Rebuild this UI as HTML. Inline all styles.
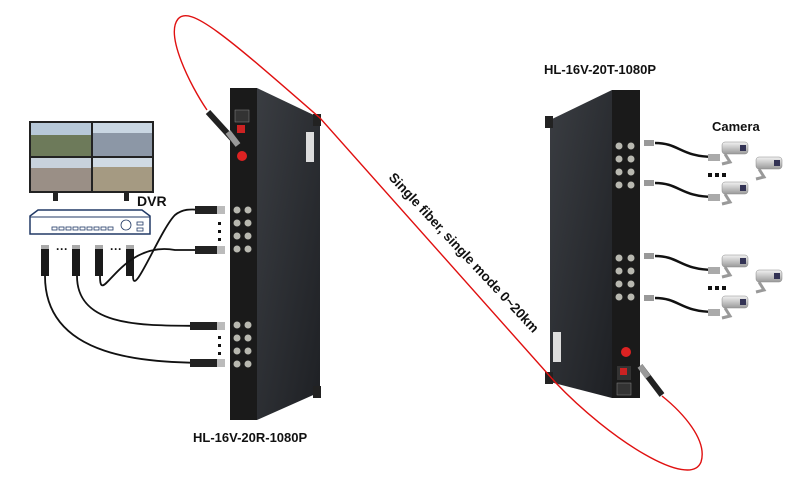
<!DOCTYPE html>
<html><head><meta charset="utf-8"><style>
html,body{margin:0;padding:0;background:#fff}
svg{display:block}
text{font-family:"Liberation Sans",Arial,sans-serif;font-weight:bold;fill:#111}
</style></head><body>
<svg width="800" height="489" viewBox="0 0 800 489" xmlns="http://www.w3.org/2000/svg">
<defs>
<linearGradient id="side" x1="0" y1="0" x2="1" y2="1">
<stop offset="0" stop-color="#3a3d42"/><stop offset="1" stop-color="#1e2024"/></linearGradient>
<linearGradient id="cam" x1="0" y1="0" x2="0" y2="1">
<stop offset="0" stop-color="#f2f2f2"/><stop offset="1" stop-color="#9a9a9a"/></linearGradient>
</defs>

<rect x="29" y="121" width="125" height="72" fill="#222"/>
<rect x="31" y="123" width="60" height="33" fill="#6d7a5a"/>
<rect x="93" y="123" width="59" height="33" fill="#8c97a6"/>
<rect x="31" y="158" width="60" height="33" fill="#9a8f86"/>
<rect x="93" y="158" width="59" height="33" fill="#a59a82"/>
<rect x="31" y="123" width="60" height="12" fill="#b7c8d8"/>
<rect x="93" y="123" width="59" height="10" fill="#c9d6e2"/>
<rect x="31" y="158" width="60" height="10" fill="#c8d2dc"/>
<rect x="93" y="158" width="59" height="9" fill="#d0dae3"/>
<rect x="53" y="193" width="5" height="8" fill="#222"/>
<rect x="124" y="193" width="5" height="8" fill="#222"/>
<text x="137" y="206" font-size="14">DVR</text>
<path d="M38 210 L142 210 L150 216 L150 234 L30 234 L30 216 Z" fill="#fff" stroke="#223a66" stroke-width="1.5"/>
<line x1="30" y1="217" x2="150" y2="217" stroke="#223a66"/>
<g fill="none" stroke="#223a66" stroke-width="0.8">
<rect x="52" y="227" width="5" height="3"/><rect x="59" y="227" width="5" height="3"/><rect x="66" y="227" width="5" height="3"/><rect x="73" y="227" width="5" height="3"/><rect x="80" y="227" width="5" height="3"/><rect x="87" y="227" width="5" height="3"/><rect x="94" y="227" width="5" height="3"/><rect x="101" y="227" width="5" height="3"/><rect x="108" y="227" width="5" height="3"/>
<circle cx="126" cy="225" r="5"/><rect x="137" y="222" width="6" height="3"/><rect x="137" y="228" width="6" height="3"/>
</g>

<g fill="#1a1a1a">
<rect x="41" y="246" width="8" height="30"/><rect x="72" y="246" width="8" height="30"/><rect x="95" y="246" width="8" height="30"/><rect x="126" y="246" width="8" height="30"/>
</g>
<g fill="#aaa"><rect x="41" y="245" width="8" height="4"/><rect x="72" y="245" width="8" height="4"/><rect x="95" y="245" width="8" height="4"/><rect x="126" y="245" width="8" height="4"/></g>
<text x="56" y="253" font-size="12">···</text>
<text x="110" y="253" font-size="12">···</text>
<g fill="none" stroke="#111" stroke-width="1.8">
<path d="M133 276 C133 300,160 230,175 215 C185 207,195 210,205 210"/>
<path d="M100 276 C100 310,120 240,175 250 L205 250"/>
<path d="M77 276 C77 330,150 325,205 326"/>
<path d="M45 276 C45 360,150 362,205 363"/>
</g>
<g fill="#222"><rect x="195" y="206" width="22" height="8"/><rect x="195" y="246" width="22" height="8"/><rect x="190" y="322" width="27" height="8"/><rect x="190" y="359" width="27" height="8"/></g>
<g fill="#bbb"><rect x="217" y="206" width="8" height="8"/><rect x="217" y="246" width="8" height="8"/><rect x="217" y="322" width="8" height="8"/><rect x="217" y="359" width="8" height="8"/></g>
<g fill="#111"><rect x="218" y="222" width="3" height="3"/><rect x="218" y="230" width="3" height="3"/><rect x="218" y="238" width="3" height="3"/><rect x="218" y="336" width="3" height="3"/><rect x="218" y="344" width="3" height="3"/><rect x="218" y="352" width="3" height="3"/></g>

<path d="M257 88 L320 118 L320 392 L257 420 Z" fill="url(#side)"/>
<rect x="313" y="114" width="8" height="12" fill="#222"/>
<rect x="313" y="386" width="8" height="12" fill="#222"/>
<rect x="306" y="132" width="8" height="30" fill="#ddd"/>
<rect x="230" y="88" width="27" height="332" fill="#1a1a1a"/>
<rect x="235" y="110" width="14" height="12" fill="#333" stroke="#888" stroke-width="0.5"/>
<rect x="237" y="125" width="8" height="8" fill="#c22"/>
<circle cx="242" cy="156" r="5" fill="#d22"/>
<g fill="#b8b8b0">
<circle cx="237" cy="210" r="3.5"/><circle cx="248" cy="210" r="3.5"/><circle cx="237" cy="223" r="3.5"/><circle cx="248" cy="223" r="3.5"/><circle cx="237" cy="236" r="3.5"/><circle cx="248" cy="236" r="3.5"/><circle cx="237" cy="249" r="3.5"/><circle cx="248" cy="249" r="3.5"/>
<circle cx="237" cy="325" r="3.5"/><circle cx="248" cy="325" r="3.5"/><circle cx="237" cy="338" r="3.5"/><circle cx="248" cy="338" r="3.5"/><circle cx="237" cy="351" r="3.5"/><circle cx="248" cy="351" r="3.5"/><circle cx="237" cy="364" r="3.5"/><circle cx="248" cy="364" r="3.5"/>
</g>
<path d="M208 112 L238 145" stroke="#222" stroke-width="6"/>
<path d="M228 132 L238 145" stroke="#999" stroke-width="6"/>
<text x="193" y="442" font-size="13">HL-16V-20R-1080P</text>

<path d="M612 90 L550 120 L550 382 L612 398 Z" fill="url(#side)"/>
<rect x="545" y="116" width="8" height="12" fill="#222"/>
<rect x="545" y="372" width="8" height="12" fill="#222"/>
<rect x="553" y="332" width="8" height="30" fill="#ddd"/>
<rect x="612" y="90" width="28" height="308" fill="#1a1a1a"/>
<g fill="#b8b8b0">
<circle cx="619" cy="146" r="3.5"/><circle cx="631" cy="146" r="3.5"/><circle cx="619" cy="159" r="3.5"/><circle cx="631" cy="159" r="3.5"/><circle cx="619" cy="172" r="3.5"/><circle cx="631" cy="172" r="3.5"/><circle cx="619" cy="185" r="3.5"/><circle cx="631" cy="185" r="3.5"/>
<circle cx="619" cy="258" r="3.5"/><circle cx="631" cy="258" r="3.5"/><circle cx="619" cy="271" r="3.5"/><circle cx="631" cy="271" r="3.5"/><circle cx="619" cy="284" r="3.5"/><circle cx="631" cy="284" r="3.5"/><circle cx="619" cy="297" r="3.5"/><circle cx="631" cy="297" r="3.5"/>
</g>
<circle cx="626" cy="352" r="5" fill="#d22"/>
<rect x="617" y="366" width="14" height="14" fill="#333"/><rect x="620" y="368" width="7" height="7" fill="#c22"/>
<rect x="617" y="383" width="14" height="12" fill="#333" stroke="#888" stroke-width="0.5"/>
<path d="M640 366 L662 395" stroke="#222" stroke-width="6"/>
<path d="M640 366 L648 377" stroke="#999" stroke-width="6"/>
<text x="544" y="74" font-size="13">HL-16V-20T-1080P</text>

<g fill="none" stroke="#111" stroke-width="2.5">
<path d="M655 143 C680 143,680 157,715 157"/>
<path d="M655 183 C680 183,680 197,715 197"/>
<path d="M655 256 C680 256,680 270,715 270"/>
<path d="M655 298 C680 298,680 312,715 312"/>
</g>
<g fill="#999"><rect x="644" y="140" width="10" height="6"/><rect x="644" y="180" width="10" height="6"/><rect x="644" y="253" width="10" height="6"/><rect x="644" y="295" width="10" height="6"/></g>
<g fill="#aaa"><rect x="708" y="154" width="12" height="7"/><rect x="708" y="194" width="12" height="7"/><rect x="708" y="267" width="12" height="7"/><rect x="708" y="309" width="12" height="7"/></g>
<text x="712" y="131" font-size="13">Camera</text>
<g>
<g transform="translate(722,142)"><rect x="0" y="0" width="26" height="12" rx="3" fill="url(#cam)" stroke="#888" stroke-width=".5"/><rect x="18" y="3" width="6" height="6" fill="#335"/><path d="M3 12 L8 20 L0 22" stroke="#999" stroke-width="3" fill="none"/></g>
<g transform="translate(756,157)"><rect x="0" y="0" width="26" height="12" rx="3" fill="url(#cam)" stroke="#888" stroke-width=".5"/><rect x="18" y="3" width="6" height="6" fill="#335"/><path d="M3 12 L8 20 L0 22" stroke="#999" stroke-width="3" fill="none"/></g>
<g transform="translate(722,182)"><rect x="0" y="0" width="26" height="12" rx="3" fill="url(#cam)" stroke="#888" stroke-width=".5"/><rect x="18" y="3" width="6" height="6" fill="#335"/><path d="M3 12 L8 20 L0 22" stroke="#999" stroke-width="3" fill="none"/></g>
<g transform="translate(722,255)"><rect x="0" y="0" width="26" height="12" rx="3" fill="url(#cam)" stroke="#888" stroke-width=".5"/><rect x="18" y="3" width="6" height="6" fill="#335"/><path d="M3 12 L8 20 L0 22" stroke="#999" stroke-width="3" fill="none"/></g>
<g transform="translate(756,270)"><rect x="0" y="0" width="26" height="12" rx="3" fill="url(#cam)" stroke="#888" stroke-width=".5"/><rect x="18" y="3" width="6" height="6" fill="#335"/><path d="M3 12 L8 20 L0 22" stroke="#999" stroke-width="3" fill="none"/></g>
<g transform="translate(722,296)"><rect x="0" y="0" width="26" height="12" rx="3" fill="url(#cam)" stroke="#888" stroke-width=".5"/><rect x="18" y="3" width="6" height="6" fill="#335"/><path d="M3 12 L8 20 L0 22" stroke="#999" stroke-width="3" fill="none"/></g>
</g>
<g fill="#111"><rect x="708" y="173" width="4" height="4"/><rect x="715" y="173" width="4" height="4"/><rect x="722" y="173" width="4" height="4"/>
<rect x="708" y="286" width="4" height="4"/><rect x="715" y="286" width="4" height="4"/><rect x="722" y="286" width="4" height="4"/></g>

<path d="M207 110 C190 85 165 35 178 19 C190 5 225 35 320 118 L555 382 C610 440 690 490 701 462 C708 440 682 412 662 396" fill="none" stroke="#e01010" stroke-width="1.4"/>
<text x="0" y="0" font-size="13.5" transform="translate(388 178) rotate(47)">Single fiber, single mode 0~20km</text>
</svg>
</body></html>
